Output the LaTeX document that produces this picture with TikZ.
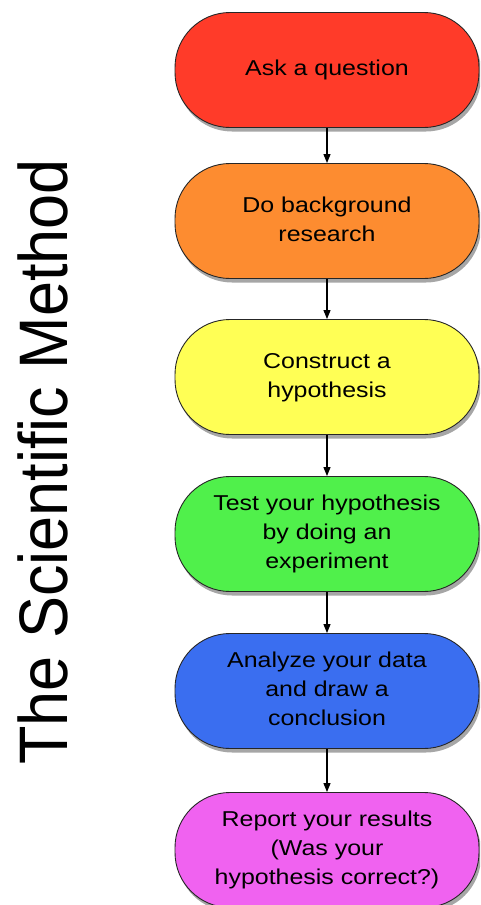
\documentclass[tikz,border=0pt]{standalone}
\usepackage{fontspec}
\setmainfont{Liberation Sans}
\usetikzlibrary{arrows.meta,shadows}
\definecolor{cred}{RGB}{255,59,41}
\definecolor{corange}{RGB}{253,140,48}
\definecolor{cyellow}{RGB}{255,255,85}
\definecolor{cgreen}{RGB}{80,240,75}
\definecolor{cblue}{RGB}{58,110,240}
\definecolor{cmagenta}{RGB}{240,98,240}
\newcommand\boxtxt[1]{\scalebox{1.16}[1]{\begin{tabular}{@{}c@{}}#1\end{tabular}}}
\begin{document}
\begin{tikzpicture}[x=1pt,y=-1pt,
  stepbox/.style={draw=black!85, line width=0.9pt, rounded corners=55pt,
    minimum width=304pt, minimum height=115pt, inner sep=0pt,
    font=\fontsize{21.5}{29}\selectfont,
    drop shadow={shadow xshift=2pt, shadow yshift=-4pt, opacity=0.35, fill=black}},
  link/.style={-{Triangle[length=9pt,width=7pt]}, line width=1.2pt}]
\useasboundingbox (0,0) rectangle (480,905);
\fill[white] (0,0) rectangle (480,905);
\clip (0,0) rectangle (480,905);

\node[rotate=90, anchor=base, inner sep=0pt, font=\fontsize{63}{70}\selectfont] (title) at (67,462) {\scalebox{1}[1.09]{The Scientific Method}};

\node[stepbox, fill=cred] (s1) at (327,70) {\boxtxt{Ask a question}};
\node[stepbox, fill=corange] (s2) at (327,221) {\boxtxt{Do background\\research}};
\node[stepbox, fill=cyellow] (s3) at (327,377) {\boxtxt{Construct a\\hypothesis}};
\node[stepbox, fill=cgreen] (s4) at (327,534) {\boxtxt{Test your hypothesis\\by doing an\\experiment}};
\node[stepbox, fill=cblue] (s5) at (327,691) {\boxtxt{Analyze your data\\and draw a\\conclusion}};
\node[stepbox, fill=cmagenta] (s6) at (327,850) {\boxtxt{Report your results\\(Was your\\hypothesis correct?)}};

\draw[link] (s1) -- (s2);
\draw[link] (s2) -- (s3);
\draw[link] (s3) -- (s4);
\draw[link] (s4) -- (s5);
\draw[link] (s5) -- (s6);
\end{tikzpicture}
\end{document}
